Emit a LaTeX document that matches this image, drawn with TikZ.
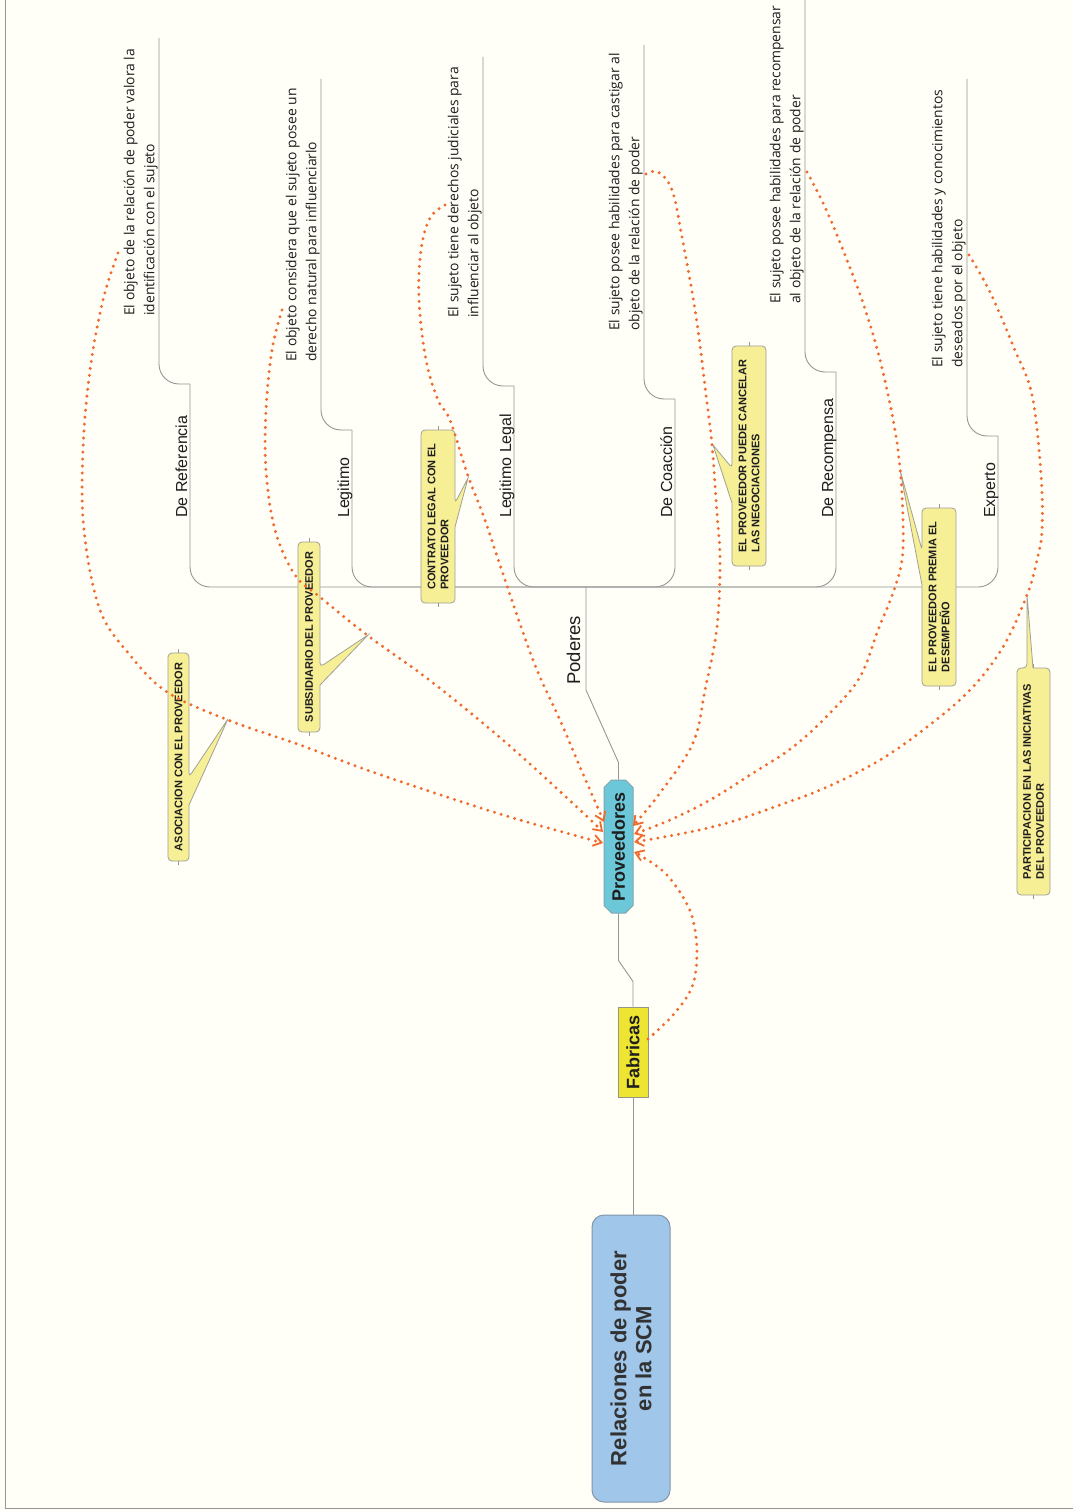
\documentclass[tikz,border=0pt]{standalone}
\usepackage{fontspec}
\setmainfont{Liberation Sans}
\newfontfamily\descfont{Open Sans}
\usetikzlibrary{arrows.meta,shapes.misc,calc}

\definecolor{paper}{RGB}{255,254,247}
\definecolor{treegray}{RGB}{150,150,150}
\definecolor{noteyellow}{RGB}{246,239,150}
\definecolor{noteborder}{RGB}{160,160,150}
\definecolor{relorange}{RGB}{240,105,45}
\definecolor{provcyan}{RGB}{108,200,216}
\definecolor{provborder}{RGB}{125,165,175}
\definecolor{fabyellow}{RGB}{238,228,50}
\definecolor{fabborder}{RGB}{150,150,130}
\definecolor{rootblue}{RGB}{160,198,234}
\definecolor{rootborder}{RGB}{130,150,170}
\definecolor{ink}{RGB}{30,30,30}
\definecolor{rootink}{RGB}{50,50,50}

\begin{document}
\begin{tikzpicture}[x=1pt,y=-1pt,
  treeline/.style={draw=treegray,line width=0.9pt},
  framerule/.style={draw=treegray,line width=0.9pt},
  lbl/.style={inner sep=0pt,text=ink,font=\fontsize{16}{19}\selectfont},
  desc/.style={inner sep=0pt,text=ink,align=left,font=\descfont\fontsize{13.9}{20}\selectfont},
  callout/.style={draw=noteborder,fill=noteyellow,line width=0.8pt},
  calltext/.style={inner sep=0pt,text=ink,align=left,font=\bfseries\fontsize{11}{13}\selectfont},
  stub/.style={draw=treegray,line width=0.8pt},
  rel/.style={draw=relorange,line width=3.3pt,line cap=round,dash pattern=on 0pt off 7pt,
    -{Straight Barb[length=8pt,width=11pt,line width=1.8pt]}}
]
\fill[paper] (0,0) rectangle (1073,1511);
\useasboundingbox (0,0) rectangle (1073,1511);

% page frame
\draw[framerule] (5.5,0) -- (5.5,1508.5) -- (1073,1508.5);

% main topics
\node[draw=rootborder,fill=rootblue,line width=1pt,rounded corners=12pt,rotate=90,
      minimum width=287,minimum height=78,inner sep=0pt,align=center,text=rootink,
      font=\bfseries\fontsize{22}{25}\selectfont] (root) at (631,1358.5)
      {Relaciones de poder\\en la SCM};
\node[draw=fabborder,fill=fabyellow,line width=1pt,rotate=90,
      minimum width=90,minimum height=30,inner sep=0pt,text=ink,
      font=\bfseries\fontsize{18}{21}\selectfont] (fab) at (633,1052) {Fabricas};
\node[draw=provborder,fill=provcyan,line width=1pt,chamfered rectangle,
      chamfered rectangle xsep=4pt,chamfered rectangle angle=45,rotate=90,
      minimum width=133,minimum height=29,inner sep=0pt,text=ink,
      font=\bfseries\fontsize{18}{21}\selectfont] (prov) at (618.5,846.5) {Proveedores};

% tree connectors
\draw[treeline] (fab.west) -- (fab.west |- root.east);
\coordinate (fabbend) at ($(prov.west)+(0,47)$);
\draw[treeline] (fab.east) -- ++(0,-25) -- (fabbend) -- (prov.west);
\coordinate (hub) at (586,587);
\coordinate (podbend) at (586,690);
\draw[treeline] (prov.east) -- ++(0,-17) -- (podbend) -- (hub);
\node[lbl,font=\fontsize{18.5}{22}\selectfont,rotate=90,anchor=base west] (poderes) at (580,685) {Poderes};

% kinds of power with their descriptions
\foreach \i/\xv/\yc/\yt/\lab/\da/\db in {
  1/190/384/38/{De Referencia}/{El objeto de la relación de poder valora la}/{identificación con el sujeto},
  2/352/430/79/{Legitimo}/{El objeto considera que el sujeto posee un}/{derecho natural para influenciarlo},
  3/514/386/57/{Legitimo Legal}/{El sujeto tiene derechos judiciales para}/{influenciar al objeto},
  4/675/399/45/{De Coacción}/{El sujeto posee habilidades para castigar al}/{objeto de la relación de poder},
  5/836/372/0/{De Recompensa}/{El sujeto posee habilidades para recompensar}/{al objeto de la relación de poder},
  6/998/436/79/{Experto}/{El sujeto tiene habilidades y conocimientos}/{deseados por el objeto}}
{
  \draw[treeline,rounded corners=20pt] (hub) -| (\xv,\yc) coordinate (knee-\i);
  \draw[treeline,rounded corners=20pt] (knee-\i) -| (\xv-31,\yt) coordinate (top-\i);
  \node[lbl,rotate=90,anchor=base west] (lbl-\i) at (\xv-3,518) {\lab};
  \node[desc,rotate=90,anchor=south west] (desc-\i) at (\xv-29.5,\yc-68) {\da\\\db\strut};
}

% notes with pointers
\draw[callout] (168,757) [rounded corners=4pt] -- (168,653) -- (189,653) -- (189,777)
  [sharp corners] -- (228,719) -- (189,805) [rounded corners=4pt] -- (189,861) -- (168,861) -- cycle;
\draw[callout] (298,637) [rounded corners=4pt] -- (298,542) -- (320,542) -- (320,667)
  [sharp corners] -- (368,635) -- (320,685) [rounded corners=4pt] -- (320,732) -- (298,732) -- cycle;
\draw[callout] (421,516) [rounded corners=4pt] -- (421,430) -- (455,430) -- (455,503)
  [sharp corners] -- (468,478) -- (455,527) [rounded corners=4pt] -- (455,603) -- (421,603) -- cycle;
\draw[callout] (766,456) [rounded corners=4pt] -- (766,346) -- (732,346) -- (732,468)
  [sharp corners] -- (713,445) -- (732,503) [rounded corners=4pt] -- (732,566) -- (766,566) -- cycle;
\draw[callout] (956,597) [rounded corners=4pt] -- (956,508) -- (922,508) -- (922,550)
  [sharp corners] -- (900,470) -- (922,585) [rounded corners=4pt] -- (922,686) -- (956,686) -- cycle;
\draw[callout] (1017,781) [rounded corners=4pt] -- (1017,668) -- (1027,668)
  [sharp corners] -- (1027,595) -- (1033,668) [rounded corners=4pt] -- (1050,668) -- (1050,895) -- (1017,895) -- cycle;

\node[calltext,rotate=90] (asoc) at (178.5,757) {ASOCIACION CON EL PROVEEDOR};
\node[calltext,rotate=90] (subs) at (309,637) {SUBSIDIARIO DEL PROVEEDOR};
\node[calltext,rotate=90] (contrato) at (438,516.5) {CONTRATO LEGAL CON EL\\PROVEEDOR};
\node[calltext,rotate=90] (cancelar) at (749,456) {EL PROVEEDOR PUEDE CANCELAR\\LAS NEGOCIACIONES};
\node[calltext,rotate=90] (premia) at (939,597) {EL PROVEEDOR PREMIA EL\\DESEMPEÑO};
\node[calltext,rotate=90] (partic) at (1033.5,781.5) {PARTICIPACION EN LAS INICIATIVAS\\DEL PROVEEDOR};

% small attachment ticks on the notes
\foreach \x/\ya/\yb in {178.5/653/861, 309/542/732, 438/430/603, 749/346/566, 939/508/686, 1033.5/668/895}{
  \draw[stub] (\x,\ya) -- ++(0,-4);
  \draw[stub] (\x,\yb) -- ++(0,4);
}

% relationships pointing to the suppliers
\coordinate (s1) at (118,253);  \coordinate (e1) at (603,843);
\coordinate (s2) at (282,310);  \coordinate (e2) at (603,832);
\coordinate (s3) at (445,205);  \coordinate (e3) at (604,822);
\coordinate (s4) at (646,174);  \coordinate (e4) at (633,826);
\coordinate (s5) at (807,172);  \coordinate (e5) at (634,834);
\coordinate (s6) at (969,255);  \coordinate (e6) at (634,842);
\coordinate (s7) at (648,1039); \coordinate (e7) at (634,852);

\draw[rel] plot[smooth,tension=0.6] coordinates {(s1) (103,300) (90,370) (83,450) (84,530) (100,610)
  (130,655) (167,692) (228,720) (300,745) (367,770) (450,798) (520,820) (e1)};
\draw[rel] plot[smooth,tension=0.6] coordinates {(s2) (272,350) (266,410) (266,470) (275,530) (295,575)
  (320,597) (367,635) (420,673) (467,710) (520,755) (580,810) (e2)};
\draw[rel] plot[smooth,tension=0.6] coordinates {(s3) (430,218) (421,250) (419,300) (426,360) (438,400)
  (450,420) (467,473) (485,520) (500,565) (533,660) (560,720) (580,767) (e3)};
\draw[rel] plot[smooth,tension=0.6] coordinates {(s4) (658,172) (672,190) (682,237) (696,316) (706,395)
  (712,445) (717,514) (720,560) (717,627) (705,690) (693,743) (660,793) (e4)};
\draw[rel] plot[smooth,tension=0.6] coordinates {(s5) (824,205) (841,245) (862,300) (879,356) (893,419)
  (900,468) (903,520) (902,560) (893,593) (878,630) (860,677) (830,713) (793,747) (750,775) (710,800)
  (670,820) (e5)};
\draw[rel] plot[smooth,tension=0.6] coordinates {(s6) (990,292) (1014,348) (1032,395) (1041,474)
  (1042,530) (1037,560) (1027,595) (1003,647) (970,690) (927,727) (880,760) (827,787) (780,805)
  (727,823) (680,834) (e6)};
\draw[rel] plot[smooth,tension=0.6] coordinates {(s7) (673,1015) (692,987) (697,953) (693,920)
  (683,897) (665,873) (643,857) (e7)};
\end{tikzpicture}
\end{document}
